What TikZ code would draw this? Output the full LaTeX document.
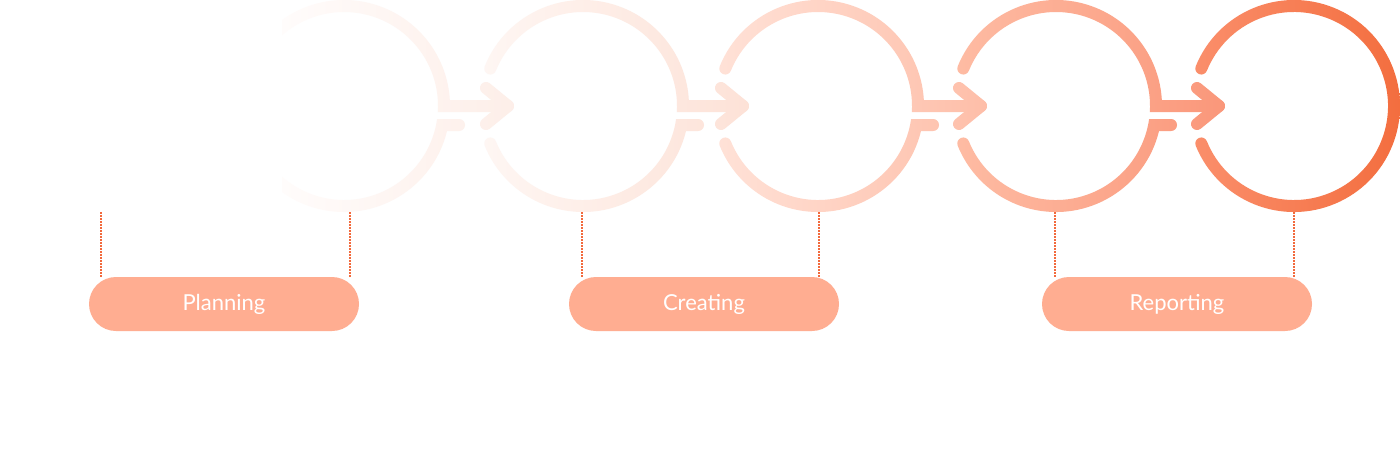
\documentclass[tikz,border=0pt]{standalone}
\usepackage{fontspec}
\setmainfont{Lato}
\definecolor{gAl}{HTML}{FFFCFB}\definecolor{gAr}{HTML}{FDEEE8}
\definecolor{gBl}{HTML}{FEF7F4}\definecolor{gBr}{HTML}{FDE1D6}
\definecolor{gCl}{HTML}{FFE3D9}\definecolor{gCr}{HTML}{FEBDA7}
\definecolor{gDl}{HTML}{FEBDA5}\definecolor{gDr}{HTML}{FA9679}
\definecolor{gEl}{HTML}{FB906D}\definecolor{gEr}{HTML}{F36D3E}
\definecolor{pillc}{HTML}{FFAD91}
\definecolor{dotc}{HTML}{F26A3D}
\tikzset{
  dotline/.style={draw=dotc, line width=0.7pt, dash pattern=on 0.75pt off 0.75pt},
  pill/.style={fill=pillc, rounded corners=13.5pt, minimum width=135pt, minimum height=27pt,
    inner sep=0pt, text=white, font=\fontsize{11}{13}\selectfont}
}
% fill a closed outline with the current group's horizontal gradient
\newcommand\gfill[1]{\begin{scope}\clip #1;
  \shade[left color=\gl, right color=\gr] (\gxa,0) rectangle (\gxb,-215);\end{scope}}
% ring with outgoing arrow: #1 ring centre x, #2 arrow tip x
\newcommand\arrowgroup[2]{%
  \gfill{([shift={(158:106)}]#1,-106) arc[start angle=158,end angle=3.245,radius=106]
    -- (#2,-100) -- (#2,-112) -- (#1+93.81,-112)
    arc[start angle=-3.66,end angle=158,radius=94]
    arc[start angle=338,end angle=158,radius=6] -- cycle}%
  \gfill{(#1+93.10,-119) -- (#1+115,-119) arc[start angle=90,end angle=-90,radius=6]
    -- (#1+103.0,-131) arc[start angle=-13.64,end angle=-158,radius=106]
    arc[start angle=202,end angle=22,radius=6]
    arc[start angle=-158,end angle=-7.95,radius=94] -- cycle}%
  \gfill{[shift={(#2-22,-88)},rotate=-39.29] (0,6) -- (28.43,6) arc[start angle=90,end angle=-90,radius=6]
    -- (0,-6) arc[start angle=270,end angle=90,radius=6] -- cycle}%
  \gfill{[shift={(#2-22,-124)},rotate=39.29] (0,6) -- (28.43,6) arc[start angle=90,end angle=-90,radius=6]
    -- (0,-6) arc[start angle=270,end angle=90,radius=6] -- cycle}%
}
\newcommand\lastring[1]{%
  \gfill{([shift={(158:106)}]#1,-106) arc[start angle=158,end angle=-158,radius=106]
    arc[start angle=202,end angle=22,radius=6]
    arc[start angle=-158,end angle=158,radius=94]
    arc[start angle=338,end angle=158,radius=6] -- cycle}%
}
\begin{document}
\begin{tikzpicture}[x=0.5pt,y=0.5pt]
  \useasboundingbox[fill=white] (0,0) rectangle (1400,-449);
  % rings and arrows, each group with its own left-to-right gradient
  \def\gl{gAl}\def\gr{gAr}\def\gxa{282}\def\gxb{519}\arrowgroup{344}{508}
  \def\gl{gBl}\def\gr{gBr}\def\gxa{473}\def\gxb{758}\arrowgroup{583}{743}
  \def\gl{gCl}\def\gr{gCr}\def\gxa{708}\def\gxb{993}\arrowgroup{818}{981}
  \def\gl{gDl}\def\gr{gDr}\def\gxa{946}\def\gxb{1231}\arrowgroup{1056}{1219}
  \def\gl{gEl}\def\gr{gEr}\def\gxa{1184}\def\gxb{1404}\lastring{1294}
  % pills
  \node[pill] (planning)  at (224,-304)  {Planning};
  \node[pill] (creating)  at (704,-304)  {Creating};
  \node[pill] (reporting) at (1177,-304) {Reporting};
  % dotted leaders
  \coordinate (d1) at (101,-212);
  \coordinate (d2) at (350,-212);
  \coordinate (d3) at (582,-212);
  \coordinate (d4) at (819,-212);
  \coordinate (d5) at (1055,-212);
  \coordinate (d6) at (1294,-212);
  \draw[dotline] (d1) -- (d1 |- planning.north);
  \draw[dotline] (d2) -- (d2 |- planning.north);
  \draw[dotline] (d3) -- (d3 |- creating.north);
  \draw[dotline] (d4) -- (d4 |- creating.north);
  \draw[dotline] (d5) -- (d5 |- reporting.north);
  \draw[dotline] (d6) -- (d6 |- reporting.north);
\end{tikzpicture}
\end{document}
